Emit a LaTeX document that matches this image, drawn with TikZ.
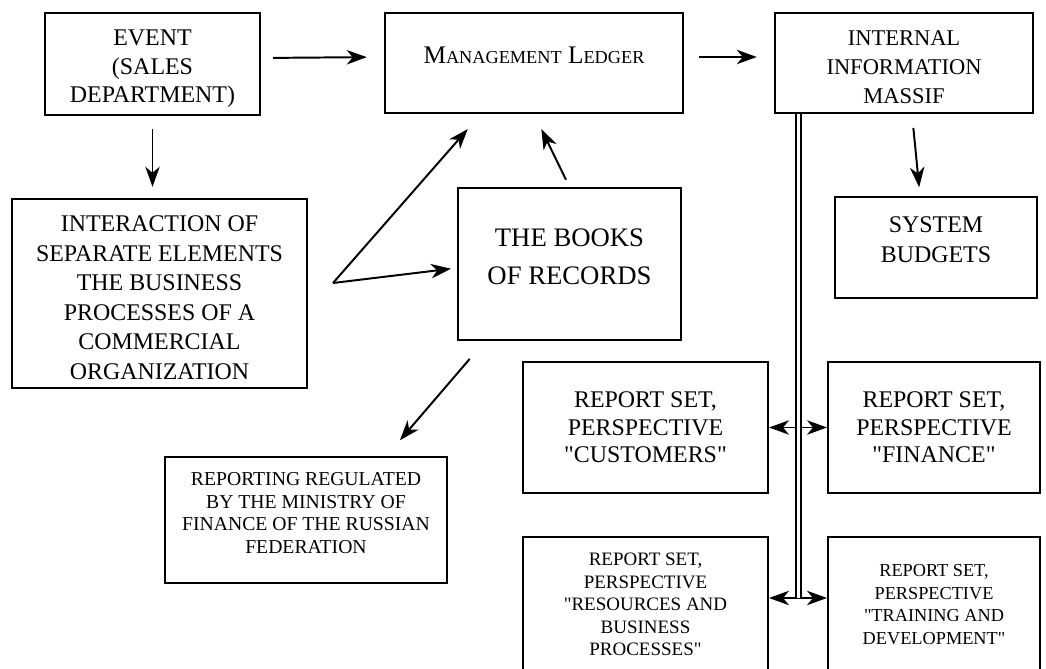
\documentclass[tikz,border=0pt]{standalone}
\usepackage{fontspec}
\setmainfont{Liberation Serif}
\usetikzlibrary{arrows.meta}
\newcommand{\ledgersc}[1]{{\fontsize{13}{15}\selectfont #1}}
\newcommand{\q}{\XeTeXglyph\the\XeTeXcharglyph"22\relax}

\begin{document}
\begin{tikzpicture}[
      x=0.025cm, y=-0.025cm,
      box/.style={draw, line width=1.4pt, align=center, inner sep=0pt},
      arr/.style={-{Stealth[length=0.5cm, width=0.36cm, inset=0.15cm]}, line width=1.4pt},
      trunk/.style={double, double distance=1.8pt, line width=1.3pt}
    ]
    \useasboundingbox (0,0) rectangle (1046,669);
    % Nodes
    \node[box, minimum width=5.375cm, minimum height=2.55cm, text height=2.07cm, font=\fontsize{17}{20.3}\selectfont]
      (event) at (152.5,64) {EVENT\\(SALES\\DEPARTMENT)};
    \node[box, minimum width=7.45cm, minimum height=2.5cm, font=\fontsize{18}{20}\selectfont]
      (ledger) at (534,63) {\raisebox{0.37cm}{M\ledgersc{ANAGEMENT} L\ledgersc{EDGER}}};
    \node[box, minimum width=6.45cm, minimum height=2.5cm, text height=2.04cm, font=\fontsize{16}{20.6}\selectfont]
      (massif) at (904,63) {INTERNAL\\INFORMATION\\MASSIF};
    \node[box, minimum width=7.375cm, minimum height=4.725cm, text height=4.29cm, font=\fontsize{17}{21}\selectfont]
      (inter) at (159.5,293.5) {INTERACTION OF\\SEPARATE ELEMENTS\\THE BUSINESS\\PROCESSES OF A\\COMMERCIAL\\ORGANIZATION};
    \node[box, minimum width=5.575cm, minimum height=3.8cm, text depth=0.35cm, font=\fontsize{19}{27}\selectfont]
      (books) at (569.5,264) {THE BOOKS\\OF RECORDS};
    \node[box, minimum width=5.05cm, minimum height=2.525cm, text depth=0.4cm, font=\fontsize{17}{21.3}\selectfont]
      (budgets) at (936,247.5) {SYSTEM\\BUDGETS};
    \node[box, minimum width=6.125cm, minimum height=3.275cm, font=\fontsize{17}{19.6}\selectfont]
      (cust) at (645.5,427.5) {REPORT SET,\\PERSPECTIVE\\\q CUSTOMERS\q};
    \node[box, minimum width=5.3cm, minimum height=3.275cm, font=\fontsize{17}{19.6}\selectfont]
      (fin) at (934,427.5) {REPORT SET,\\PERSPECTIVE\\\q FINANCE\q};
    \node[box, minimum width=7.05cm, minimum height=3.15cm, text depth=0.35cm, font=\fontsize{14}{16}\selectfont]
      (regul) at (306,520) {REPORTING REGULATED\\BY THE MINISTRY OF\\FINANCE OF THE RUSSIAN\\FEDERATION};
    \node[box, minimum width=6.125cm, minimum height=3.375cm, font=\fontsize{13.5}{16}\selectfont]
      (res) at (645.5,604.5) {REPORT SET,\\PERSPECTIVE\\\q RESOURCES AND\\BUSINESS\\PROCESSES\q};
    \node[box, minimum width=5.3cm, minimum height=3.375cm, font=\fontsize{13}{16}\selectfont]
      (train) at (934,604.5) {REPORT SET,\\PERSPECTIVE\\\q TRAINING AND\\DEVELOPMENT\q};
    % Free ends
    \coordinate (fork) at (333,283);
    \coordinate (trunktop) at ([xshift=0.6125cm]massif.south west);
    \coordinate (split1) at (trunktop |- cust.east);
    \coordinate (split2) at (trunktop |- 0,598);
    % Arrows (top row)
    \draw[arr, shorten <=0.3cm, shorten >=0.43cm] ([yshift=0.15cm]event.east) -- ([yshift=0.15cm]ledger.west);
    \draw[arr, shorten <=0.38cm, shorten >=0.43cm] ([yshift=0.15cm]ledger.east) -- ([yshift=0.15cm]massif.west);
    \draw[arr, shorten <=0.33cm, shorten >=0.28cm] (event.south) -- (event.south |- inter.north);
    \draw[arr, shorten <=0.35cm, shorten >=0.22cm] ([xshift=0.2cm]massif.south) -- ([xshift=-0.4cm]budgets.north);
    % Arrows (middle)
    \draw[arr, shorten >=0.15cm] (fork) -- ([yshift=-0.1cm]books.west);
    \draw[arr, shorten >=0.5cm] (fork) -- ([xshift=-1.325cm]ledger.south);
    \draw[arr, shorten <=0.2cm, shorten >=0.42cm] (books.north) -- (ledger.south);
    \draw[arr, shorten <=0.59cm, shorten >=0.52cm] ([xshift=-2.11cm]books.south) -- ([xshift=2.01cm]regul.north);
    % Report sets off the double line
    \draw[arr] (split1) -- (cust.east);
    \draw[arr] (split1) -- (fin.west);
    \draw[arr] (split2) -- (split2 -| res.east);
    \draw[arr] (split2) -- (split2 -| train.west);
    \draw[trunk] (trunktop) -- (split2);
  \end{tikzpicture}
\end{document}
